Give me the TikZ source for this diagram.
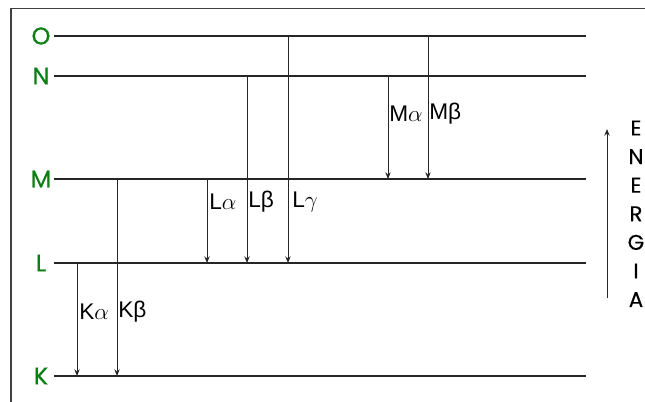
\documentclass[tikz,border=0pt]{standalone}
\usepackage{fontspec}
\setmainfont{Liberation Sans}
\newfontfamily\levelfont[FakeBold=0.7]{Poppins}
\newfontfamily\axisfont[FakeBold=0.3]{Poppins}
\usetikzlibrary{arrows.meta}
\definecolor{levelgreen}{RGB}{10,128,20}
\tikzset{
  level/.style={draw=black!85, line width=0.8pt},
  levelname/.style={text=levelgreen, font=\levelfont\fontsize{18}{18}\selectfont, inner sep=0pt},
  trans/.style={draw=black!85, line width=0.75pt, -{Stealth[length=5pt,width=4pt]}},
  translabel/.style={font=\fontsize{17}{17}\selectfont, inner sep=0pt, anchor=west},
  energyletter/.style={font=\axisfont\fontsize{16}{16}\selectfont, inner sep=0pt}
}
\begin{document}
\begin{tikzpicture}[x=0.75pt, y=-0.75pt]
  \useasboundingbox (0,0) rectangle (645,402);
  % outer frame (top and left edges)
  \draw[draw=black!75, line width=1.1pt] (11,402) -- (11,8.5) -- (645,8.5);

  % energy levels
  \foreach \n/\y in {O/36, N/76, M/179, L/263, K/376}{
    \node[levelname] (lab\n) at (41,\y) {\n};
    \coordinate (\n w) at (54,\y);
    \coordinate (\n e) at (586,\y);
    \draw[level] (\n w) -- (\n e);
  }

  % transition start/end points
  \coordinate (ka1) at (77,263);  \coordinate (ka2) at (77,376);
  \coordinate (kb1) at (117,179); \coordinate (kb2) at (117,376);
  \coordinate (la1) at (207,179); \coordinate (la2) at (207,263);
  \coordinate (lb1) at (247,76);  \coordinate (lb2) at (247,263);
  \coordinate (lg1) at (288,36);  \coordinate (lg2) at (288,263);
  \coordinate (ma1) at (388,76);  \coordinate (ma2) at (388,179);
  \coordinate (mb1) at (428,36);  \coordinate (mb2) at (428,179);

  \draw[trans] (ka1) -- (ka2);
  \draw[trans] (kb1) -- (kb2);
  \draw[trans] (la1) -- (la2);
  \draw[trans] (lb1) -- (lb2);
  \draw[trans] (lg1) -- (lg2);
  \draw[trans] (ma1) -- (ma2);
  \draw[trans] (mb1) -- (mb2);

  % transition labels
  \node[translabel] (tka) at (79,312) {K$\alpha$};
  \node[translabel] (tkb) at (118,312) {Kβ};
  \node[translabel] (tla) at (209,202) {L$\alpha$};
  \node[translabel] (tlb) at (248,202) {Lβ};
  \node[translabel] (tlg) at (292,202) {L$\gamma$};
  \node[translabel] (tma) at (389,114) {M$\alpha$};
  \node[translabel] (tmb) at (429,114) {Mβ};

  % energy axis
  \coordinate (en0) at (607,298);
  \coordinate (en1) at (607,129);
  \draw[trans] (en0) -- (en1);
  \foreach \c [count=\i from 0] in {E,N,E,R,G,I,A}{
    \node[energyletter] (en\i l) at (636,{128+28.6*\i}) {\c};
  }
\end{tikzpicture}
\end{document}
